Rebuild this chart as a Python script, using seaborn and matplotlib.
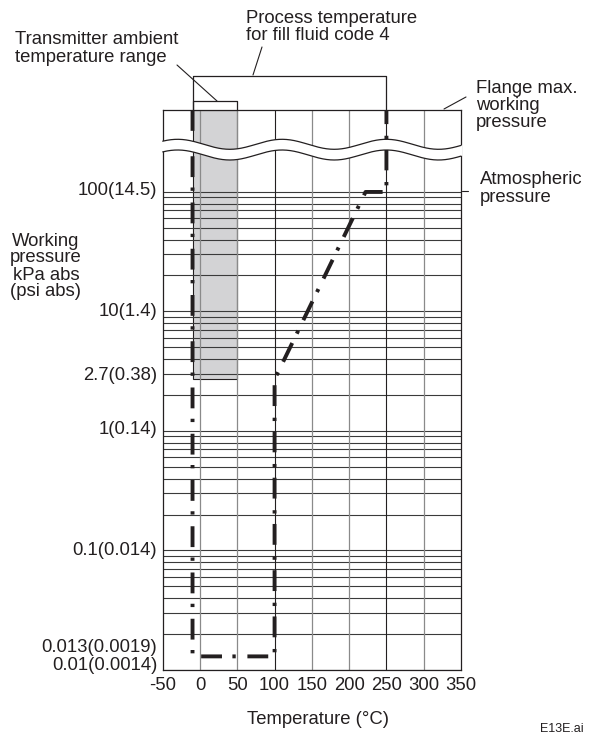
import numpy as np
import matplotlib
matplotlib.use("Agg")
import matplotlib.pyplot as plt
import matplotlib.transforms as mtransforms
from matplotlib.lines import Line2D
from matplotlib.patches import Rectangle, Polygon
from matplotlib.ticker import NullLocator
import seaborn as sns
import pandas as pd

# ---- chart data ----
temp_ticks = [-50, 0, 50, 100, 150, 200, 250, 300, 350]
temp_labels = ["-50", "0", "50", "100", "150", "200", "250", "300", "350"]
pressure_ticks = [100, 10, 2.7, 1, 0.1, 0.013, 0.01]
pressure_labels = ["100(14.5)", "10(1.4)", "2.7(0.38)", "1(0.14)",
                   "0.1(0.014)", "0.013(0.0019)", "0.01(0.0014)"]
label_shift_px = [1, 0, 4, 1, 0, 9, 4]   # labels in the drawing sit a little off their lines
p_min, p_top = 0.01, 485                 # p_top stands for flange max. working pressure (broken axis)
p_atm = 101.3

# working limit of fill fluid code 4
limit_temp = [-10, -10, 100, 100, 222, 250, 250]
limit_press = [p_top, 0.013, 0.013, 2.7, 100, 100, p_top]

ambient_range = (-10, 50)      # transmitter ambient temperature range
ambient_p_min = 2.7
process_range = (-10, 250)     # process temperature range

# ---- figure ----
W, H = 594, 735
sns.set_style("white")
plt.rcParams['font.family'] = ['Liberation Sans', 'DejaVu Sans']
plt.rcParams['lines.scale_dashes'] = False
ink = '#231f20'
fs = 13.3

fig = plt.figure(figsize=(W / 100, H / 100), dpi=100)
ax_l, ax_r, ax_t, ax_b = 162.7, 461, 110, 670
ax = fig.add_axes([ax_l / W, 1 - ax_b / H, (ax_r - ax_l) / W, (ax_b - ax_t) / H])
ax.set_yscale('log')
ax.set_xlim(-50, 350)
ax.set_ylim(p_min, p_top)


def fx(x):
    return x / W


def fy(y):
    return 1 - y / H


def axfrac(y):
    return (ax_b - y) / (ax_b - ax_t)


# grid
minor = [k * 10.0 ** e for e in range(-2, 2) for k in range(1, 10)] + [100]
ax.hlines(minor, -50, 350, colors='#3a3a3a', lw=0.8, zorder=1)
ax.vlines([0, 50, 150, 200, 300], p_min, p_top, colors='#8a8a8a', lw=0.9, zorder=1)
ax.vlines([100, 250], p_min, p_top, colors=ink, lw=0.8, zorder=1)

# ambient temperature box
ax.add_patch(Rectangle((ambient_range[0], ambient_p_min),
                       ambient_range[1] - ambient_range[0], p_top - ambient_p_min,
                       facecolor='#d3d3d5', edgecolor=ink, lw=0.8, zorder=0.5))

# limit line
df = pd.DataFrame({'temp': limit_temp, 'press': limit_press})
sns.lineplot(data=df, x='temp', y='press', sort=False, estimator=None,
             color=ink, lw=2.8, ax=ax, zorder=3)
line = ax.lines[-1]
line.set_linestyle((0, (15, 7.5, 2.4, 8.4)))
line.set_dash_capstyle('butt')

# axis break (wavy band)
tr = ax.get_xaxis_transform()
period_T, trough_T = 140, 40
amp = 5 / (ax_b - ax_t)
up_c, lo_c = axfrac(144.3), axfrac(155)
tt = np.linspace(-52, 352, 400)
wave = np.cos(2 * np.pi * (tt - trough_T) / period_T)
yu = up_c - amp * wave
yl = lo_c - amp * wave
band = np.column_stack([np.r_[tt, tt[::-1]], np.r_[yu, yl[::-1]]])
ax.add_patch(Polygon(band, closed=True, facecolor='white', edgecolor='none',
                     transform=tr, clip_on=False, zorder=4))
inside = (tt >= -50) & (tt <= 350)
ax.plot(tt[inside], yu[inside], transform=tr, color=ink, lw=0.9, zorder=5, clip_on=False)
ax.plot(tt[inside], yl[inside], transform=tr, color=ink, lw=0.9, zorder=5, clip_on=False)

# brackets above the chart
yb_proc, yb_amb = axfrac(76), axfrac(101)
ax.plot([process_range[0], process_range[0], process_range[1], process_range[1]],
        [1, yb_proc, yb_proc, 1], transform=tr, clip_on=False, color=ink, lw=0.9)
ax.plot([ambient_range[0], ambient_range[0], ambient_range[1], ambient_range[1]],
        [1, yb_amb, yb_amb, 1], transform=tr, clip_on=False, color=ink, lw=0.9)

# atmospheric pressure mark
ax.plot([352, 359.5], [p_atm, p_atm], clip_on=False, color=ink, lw=0.8)

# axes styling
for s in ax.spines.values():
    s.set_color(ink)
    s.set_linewidth(0.9)
ax.set_xticks(temp_ticks, temp_labels)
ax.tick_params(axis='x', length=0, pad=5, labelsize=fs, colors=ink)
ax.set_yticks([])
ax.yaxis.set_minor_locator(NullLocator())
ax.set_xlabel("")
ax.set_ylabel("")

ytr = ax.get_yaxis_transform()
for p, lab, dy in zip(pressure_ticks, pressure_labels, label_shift_px):
    t = mtransforms.offset_copy(ytr, fig=fig, x=-5.5, y=dy, units='dots')
    ax.text(0, p, lab, transform=t, ha='right', va='center', fontsize=fs, color=ink)

# annotations
fig.text(fx(246), fy(26.7), "Process temperature\nfor fill fluid code 4",
         ha='left', va='center', fontsize=fs, color=ink, linespacing=1.0)
fig.text(fx(15), fy(48.5), "Transmitter ambient\ntemperature range",
         ha='left', va='center', fontsize=fs, color=ink, linespacing=1.0)
fig.text(fx(476), fy(105.5), "Flange max.\nworking\npressure",
         ha='left', va='center', fontsize=fs, color=ink, linespacing=1.0)
fig.text(fx(480), fy(188.5), "Atmospheric\npressure",
         ha='left', va='center', fontsize=fs, color=ink, linespacing=1.0)
fig.text(fx(46), fy(266.5), "Working\npressure\nkPa abs\n(psi abs)",
         ha='center', va='center', fontsize=fs, color=ink, linespacing=1.0,
         multialignment='center')
fig.text(fx(318), fy(719), "Temperature (°C)", ha='center', va='center',
         fontsize=fs, color=ink)
fig.text(fx(540), fy(723), "E13E.ai", ha='left', va='top', fontsize=9, color=ink)

# leader lines
for (x1, y1), (x2, y2) in [((262, 47), (253, 75)),
                           ((177, 65), (217, 101)),
                           ((444, 109), (466, 97))]:
    fig.add_artist(Line2D([fx(x1), fx(x2)], [fy(y1), fy(y2)],
                          transform=fig.transFigure, color=ink, lw=0.8))

fig.savefig('out.png', dpi=100)
